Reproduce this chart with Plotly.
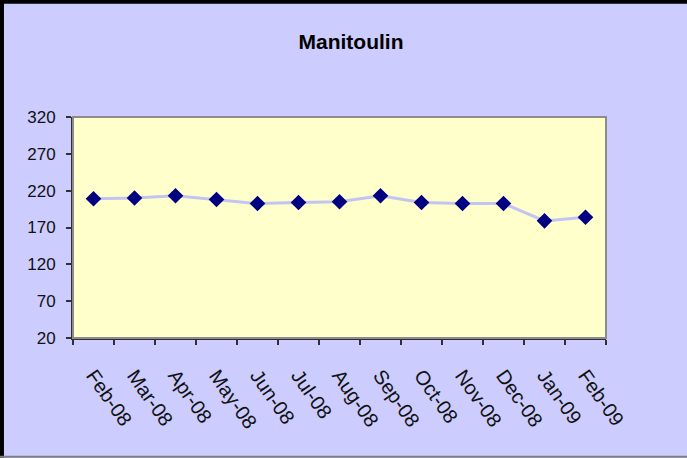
import plotly.graph_objects as go

months = ["Feb-08", "Mar-08", "Apr-08", "May-08", "Jun-08", "Jul-08", "Aug-08",
          "Sep-08", "Oct-08", "Nov-08", "Dec-08", "Jan-09", "Feb-09"]
values = [209, 210, 213, 208, 202.5, 204, 205, 213, 204, 202.5, 202.5, 179, 184]
y_ticks = [20, 70, 120, 170, 220, 270, 320]

W, H = 687, 458
L, R, T, B = 73, 605.7, 117.3, 338.3

def px(x):
    return (x - L) / (R - L)

def py(y):
    return (B - y) / (B - T)

fig = go.Figure()
fig.add_trace(go.Scatter(
    x=months, y=values, mode="lines+markers",
    line=dict(color="#C4C4F2", width=3),
    marker=dict(symbol="diamond", size=12, color="#000080",
                line=dict(color="#000080", width=0)),
    showlegend=False, hoverinfo="skip"))

fig.update_layout(
    width=W, height=H,
    margin=dict(l=L, r=W - R, t=T, b=H - B, pad=0),
    paper_bgcolor="#CCCCFF", plot_bgcolor="#FFFFCC",
    font=dict(family="Arial, Liberation Sans, sans-serif", color="#000000"),
    title=dict(text="<b>Manitoulin</b>", x=351 / W, xanchor="center",
               y=1 - 42 / H, yanchor="middle",
               font=dict(size=21, color="#000000")),
    shapes=[
        dict(type="rect", xref="paper", yref="paper", x0=0, x1=1, y0=0, y1=1,
             line=dict(color="#8C8C8C", width=2), layer="above"),
        dict(type="rect", xref="paper", yref="paper", x0=px(0), x1=px(4),
             y0=py(0), y1=py(H), fillcolor="#000000", line=dict(width=0)),
        dict(type="rect", xref="paper", yref="paper", x0=px(0), x1=px(W),
             y0=py(0), y1=py(4), fillcolor="#000000", line=dict(width=0)),
        dict(type="rect", xref="paper", yref="paper", x0=px(0), x1=px(W),
             y0=py(456), y1=py(H), fillcolor="#808080", line=dict(width=0)),
    ],
)

fig.update_xaxes(
    type="category", tickson="boundaries", showgrid=False,
    range=[-0.5, len(months) - 0.5],
    showline=True, linecolor="#303030", linewidth=2,
    ticks="outside", ticklen=5, tickcolor="#303030", tickwidth=1.5,
    tickangle=55, tickfont=dict(size=20, color="#111111"),
    ticklabelstandoff=16, zeroline=False)

fig.update_yaxes(
    range=[20, 320], tickvals=y_ticks, showgrid=False,
    showline=True, linecolor="#303030", linewidth=2,
    ticks="outside", ticklen=5, tickcolor="#303030", tickwidth=1.5,
    tickfont=dict(size=17, color="#111111"), ticklabelstandoff=7,
    zeroline=False)

fig.write_html(
    "out.html",
    config={"displayModeBar": False},
    post_script="document.body.style.margin='0';document.body.style.padding='0';"
                "document.body.style.overflow='hidden';")
